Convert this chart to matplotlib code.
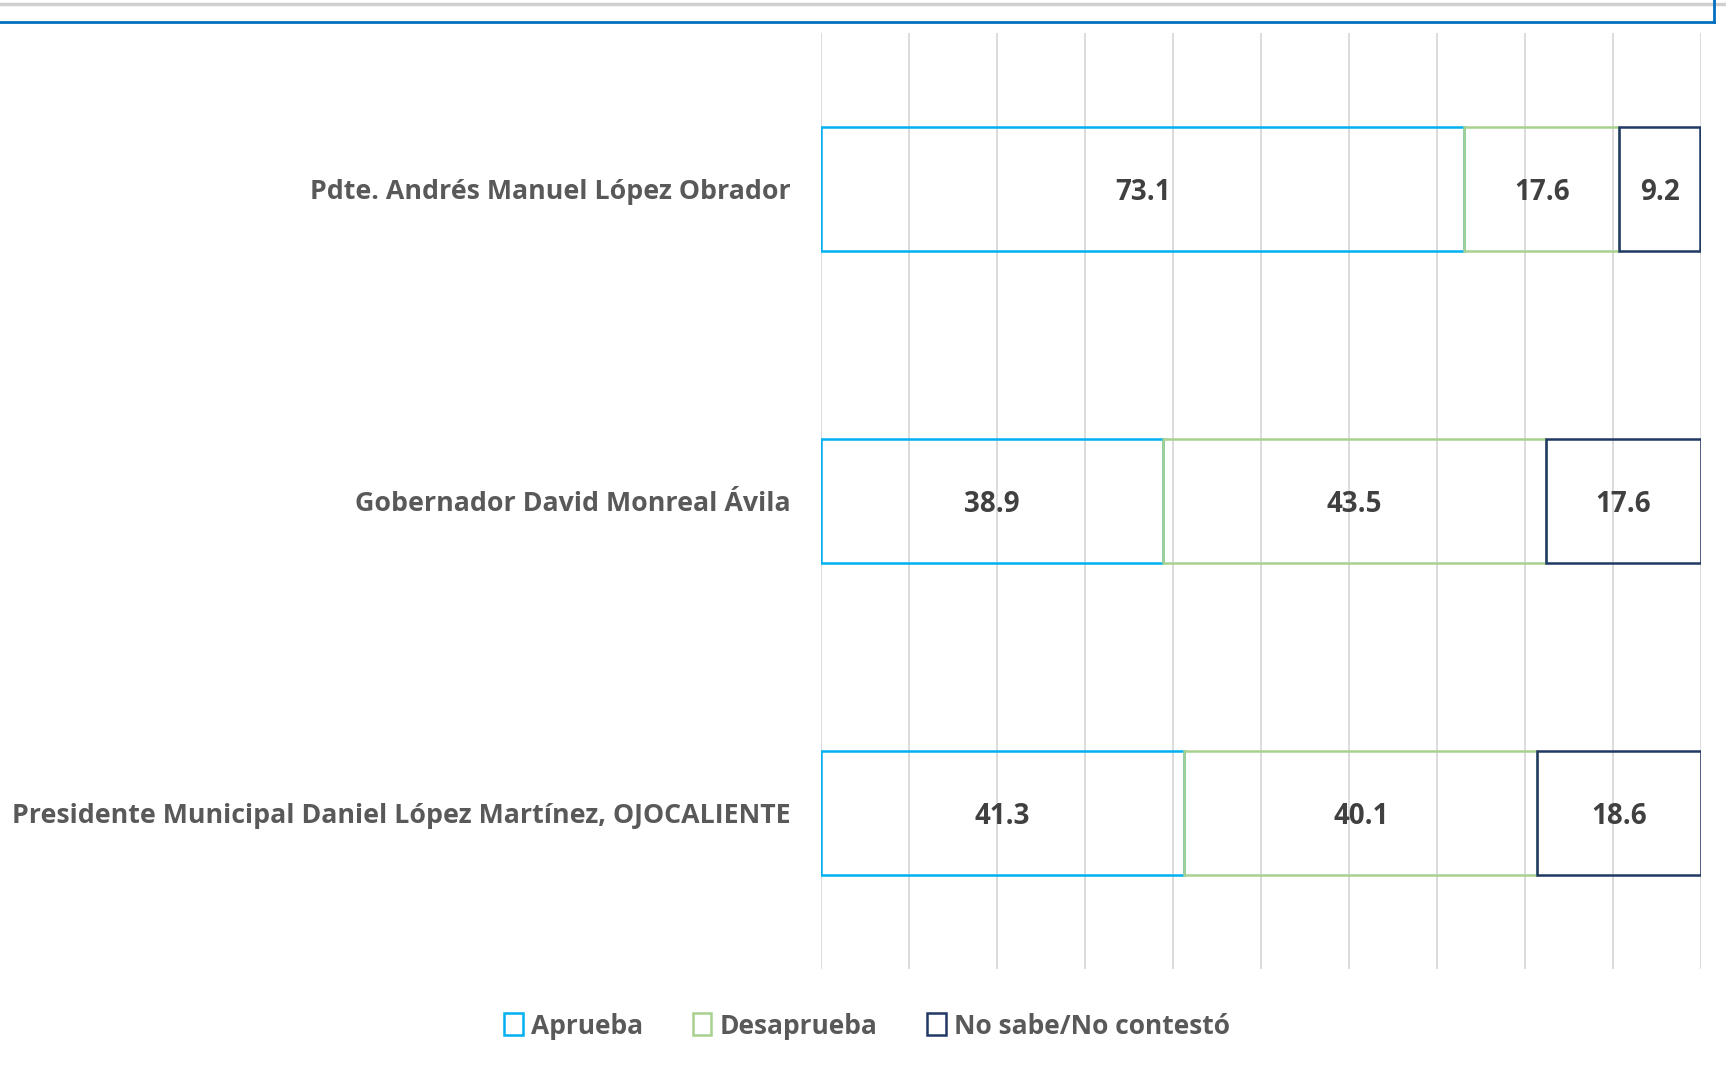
import matplotlib
matplotlib.use("Agg")
import matplotlib.pyplot as plt
from matplotlib.lines import Line2D
from matplotlib.patches import Patch

# data
categories = [
    "Pdte. Andrés Manuel López Obrador",
    "Gobernador David Monreal Ávila",
    "Presidente Municipal Daniel López Martínez, OJOCALIENTE",
]
series_names = ["Aprueba", "Desaprueba", "No sabe/No contestó"]
aprueba = [73.1, 38.9, 41.3]
desaprueba = [17.6, 43.5, 40.1]
no_sabe = [9.2, 17.6, 18.6]

colors = ["#00B0F0", "#A9D18E", "#1F3864"]
text_gray = "#595959"
value_gray = "#404040"

plt.rcParams["font.family"] = ["Open Sans", "DejaVu Sans"]
plt.rcParams["font.weight"] = "bold"

fig = plt.figure(figsize=(17.26, 10.65), dpi=100)
ax = fig.add_axes([821 / 1726, 1 - 969 / 1065, 880 / 1726, 936 / 1065])

ypos = list(range(len(categories)))
left = [0.0] * len(categories)
for vals, name, col in zip([aprueba, desaprueba, no_sabe], series_names, colors):
    ax.barh(ypos, vals, left=left, height=0.4, fill=False,
            edgecolor=col, linewidth=1.8, label=name, zorder=3)
    for y, v, l in zip(ypos, vals, left):
        ax.text(l + v / 2, y, f"{v:.1f}", ha="center", va="center_baseline",
                fontsize=20, fontweight="bold", color=value_gray, zorder=4)
    left = [a + b for a, b in zip(left, vals)]

ax.set_xlim(0, 100)
ax.set_ylim(len(categories) - 0.5, -0.5)
ax.set_xticks(range(0, 101, 10))
ax.xaxis.grid(True, color="#D9D9D9", linewidth=1.3, zorder=0)
ax.tick_params(axis="x", length=0, labelbottom=False)
ax.tick_params(axis="y", length=0, pad=22)
ax.set_yticks(ypos)
ax.set_yticklabels(categories, fontsize=19.3, fontweight="bold", color=text_gray)
for s in ax.spines.values():
    s.set_visible(False)

handles = [Patch(facecolor="white", edgecolor=c, linewidth=1.8) for c in colors]
leg = fig.legend(handles, series_names, loc="center", bbox_to_anchor=(0.5 * (460 + 1115) / 1568, 1 - 1026 / 1065),
                 ncol=3, frameon=False, fontsize=19, handlelength=0.7, handleheight=0.9,
                 handletextpad=0.3, columnspacing=1.9)
for t in leg.get_texts():
    t.set_color(text_gray)
    t.set_fontweight("bold")

# frame remnants at the top edge of the image
fig.add_artist(Line2D([0, 1], [1 - 4 / 1065, 1 - 4 / 1065], color="#D0D0D0", linewidth=2.5))
fig.add_artist(Line2D([0, 1714 / 1726], [1 - 22 / 1065, 1 - 22 / 1065], color="#0070C0", linewidth=2))
fig.add_artist(Line2D([1714 / 1726, 1714 / 1726], [1 - 22 / 1065, 1], color="#0070C0", linewidth=2))

fig.savefig("out.png", dpi=100)
